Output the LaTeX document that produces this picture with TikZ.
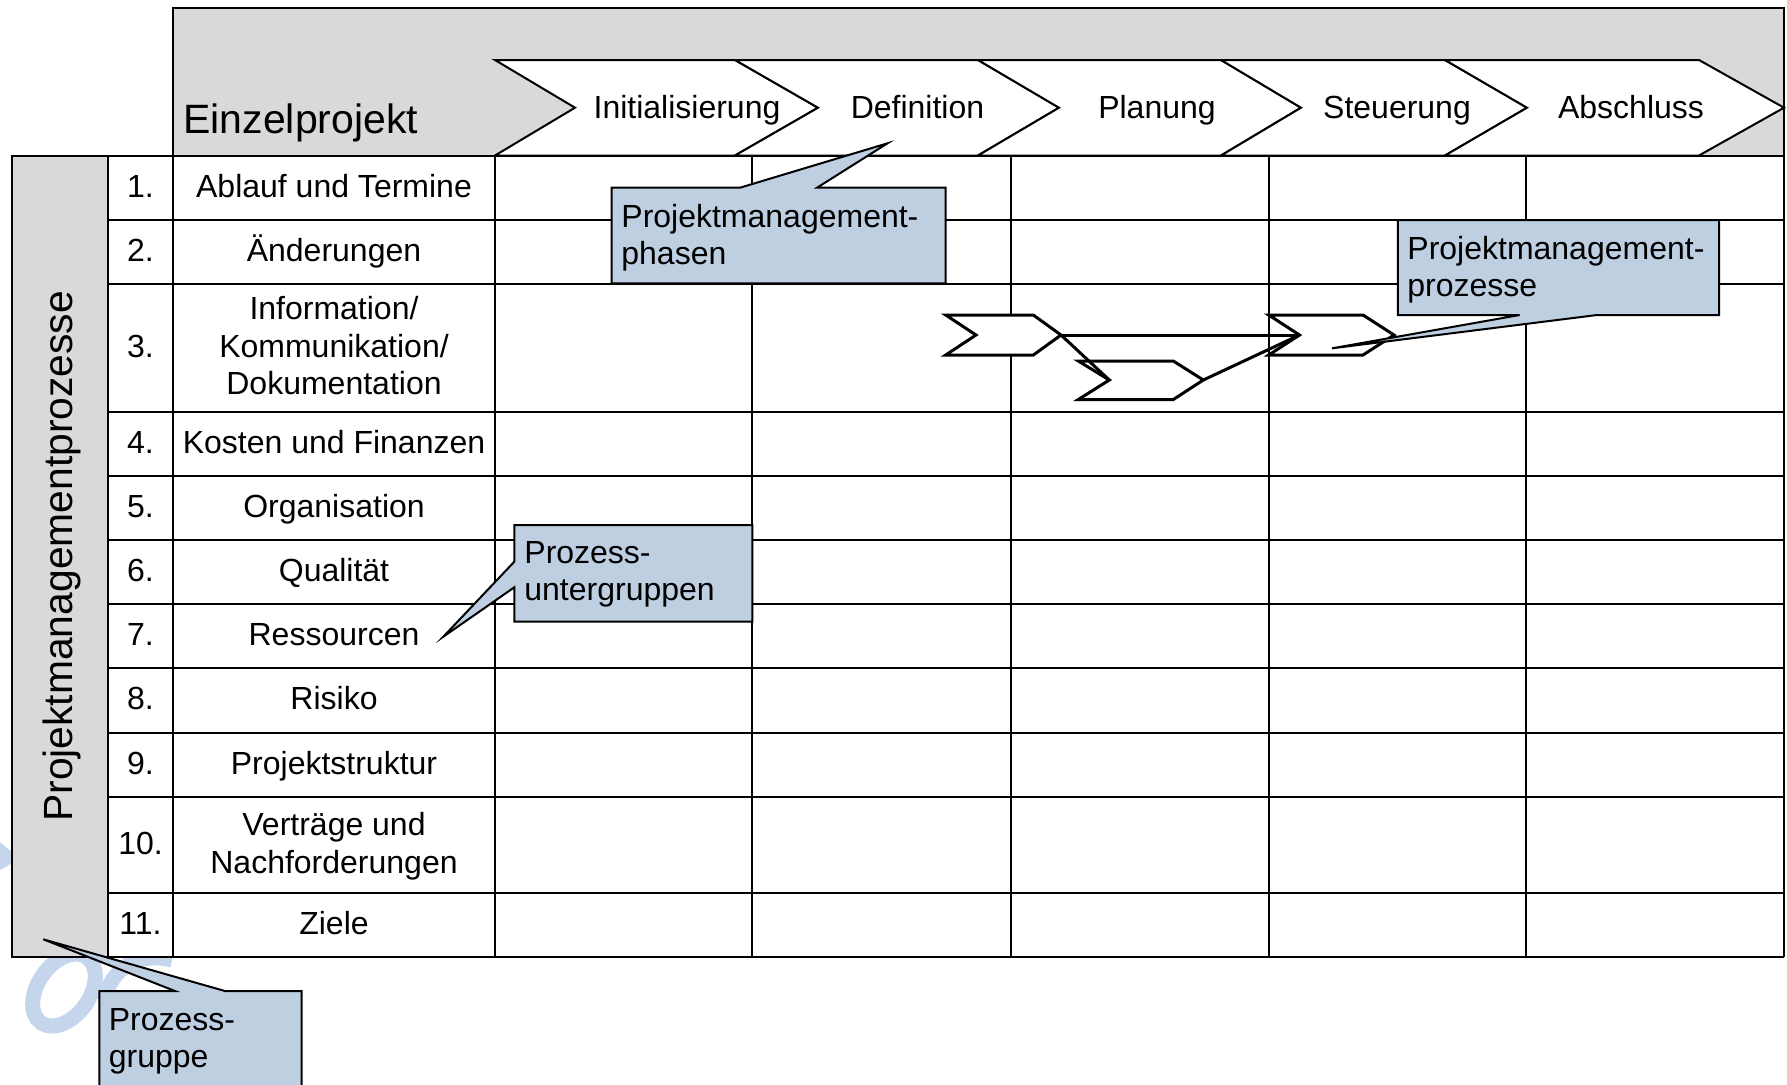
\documentclass[tikz,border=0pt]{standalone}
\usepackage{fontspec}
\setmainfont{Liberation Sans}
\definecolor{headgrey}{RGB}{217,217,217}
\definecolor{noteblue}{RGB}{191,207,226}
\definecolor{markblue}{RGB}{197,213,236}
\begin{document}
\begin{tikzpicture}[x=0.5pt,y=-0.5pt,
  rule/.style={line width=1pt},
  txt/.style={font=\fontsize{16}{18.8}\selectfont, inner sep=0pt, align=center, anchor=base},
  bigtxt/.style={font=\fontsize{20.5}{24}\selectfont, inner sep=0pt},
  phasebox/.style={draw, fill=white, line width=1pt, line join=miter},
  stepshape/.style={draw, fill=white, line width=1.5pt, line join=miter},
  link/.style={line width=1.5pt, line join=miter},
  note/.style={draw, fill=noteblue, line width=1pt, line join=miter},
  notetxt/.style={font=\fontsize{16}{18.8}\selectfont, inner sep=0pt, align=left, anchor=base west},
]
\useasboundingbox (0,0) rectangle (1787,1084);
\clip (0,0) rectangle (1787,1084);

% faint background lettering
\draw[markblue, line width=7.5pt] (64,990) ellipse [x radius=20pt, y radius=13pt, rotate=55];
\draw[markblue, line width=7.5pt] (104,1000) .. controls (112,966) and (140,952) .. (172,960);
\fill[markblue] (0,842) -- (14,854) -- (14,862) -- (0,870) -- cycle;

% header band with the phase arrows
\draw[rule, fill=headgrey] (172.7,8) rectangle (1784,155.5);
\foreach \a/\b/\c/\d in {495/575/735/818, 735/818/978/1059, 978/1059/1221/1301,
                         1221/1301/1445/1527, 1445/1527/1699/1784}
  \draw[phasebox] (\a,60) -- (\c,60) -- (\d,107.7) -- (\c,155.5) -- (\a,155.5) -- (\b,107.7) -- cycle;
\node[bigtxt, anchor=base west] (title) at (183,133) {Einzelprojekt};
\node[txt] (ph1) at (687,118)  {Initialisierung};
\node[txt] (ph2) at (917.5,118) {Definition};
\node[txt] (ph3) at (1157,118) {Planung};
\node[txt] (ph4) at (1397,118) {Steuerung};
\node[txt] (ph5) at (1631,118) {Abschluss};

% process group column
\draw[rule, fill=headgrey] (11.5,155.5) rectangle (108.3,957);
\node[inner sep=0pt, font=\fontsize{20.4}{24}\selectfont, rotate=90, anchor=base] (group) at (72,556.3) {Projektmanagementprozesse};

% table grid
\fill[white] (108.3,155.5) rectangle (1784,957);
\foreach \y in {155.5,219.6,283.7,411.9,476.1,540.2,604.3,668.4,732.5,796.7,892.8,957}
  \draw[rule] (108.3,\y) -- (1784,\y);
\foreach \x in {108.3,172.7,495,752.2,1011,1268.7,1526,1784}
  \draw[rule] (\x,155.5) -- (\x,957);

% row numbers and sub-group names
\foreach \n/\t/\y in {1/Ablauf und Termine/197, 2/Änderungen/261.1,
    4/Kosten und Finanzen/453.4, 5/Organisation/517.6, 6/Qualität/581.7,
    7/Ressourcen/645.8, 8/Risiko/709.9, 9/Projektstruktur/774, 11/Ziele/934.3}
{
  \node[txt] (num\n) at (140.5,\y) {\n.};
  \node[txt] (lab\n) at (334,\y) {\t};
}
\node[txt] (num3) at (140.5,357.2) {3.};
\node[txt] (lab3) at (334,394.8) {Information/\\Kommunikation/\\Dokumentation};
\node[txt] (num10) at (140.5,854.2) {10.};
\node[txt] (lab10) at (334,873) {Verträge und\\Nachforderungen};

% process steps in row 3
\draw[stepshape] (945.7,315) -- (1033.3,315) -- (1061,335) -- (1033.3,355) -- (945.7,355) -- (976,335) -- cycle;
\draw[stepshape] (1078.3,361) -- (1173.3,361) -- (1203.3,380) -- (1173.3,399.5) -- (1078.3,399.5) -- (1109.3,380) -- cycle;
\draw[stepshape] (1268.7,315) -- (1363,315) -- (1394,335) -- (1363,355) -- (1268.7,355) -- (1299.5,335) -- cycle;
\coordinate (s1tip) at (1061,335);
\coordinate (s2in) at (1109.3,380);
\coordinate (s2tip) at (1203.3,380);
\coordinate (s3in) at (1299.5,335);
\draw[link] (s1tip) -- (s3in);
\draw[link] (s1tip) -- (s2in);
\draw[link] (s2tip) -- (s3in);

% callouts
\draw[note] (611.6,187.7) -- (740,187.7) -- (887.5,143.3) -- (817,187.7) -- (945.5,187.7)
  -- (945.5,283.3) -- (611.6,283.3) -- cycle;
\node[notetxt] (note1) at (621,264.6) {Projektmanagement-\\phasen};

\draw[note] (1397.8,220) -- (1719,220) -- (1719,315) -- (1597,315) -- (1332,348.3)
  -- (1519.6,315) -- (1397.8,315) -- cycle;
\node[notetxt] (note2) at (1407,296.6) {Projektmanagement-\\prozesse};

\draw[note] (514.3,525) -- (752.3,525) -- (752.3,621.7) -- (514.3,621.7) -- (514.3,587.3)
  -- (443.3,636.7) -- (514.3,561.7) -- cycle;
\node[notetxt] (note3) at (524,600.6) {Prozess-\\untergruppen};

\draw[note] (99.3,991) -- (175,991) -- (43.3,939.3) -- (225,991) -- (301.7,991)
  -- (301.7,1095) -- (99.3,1095) -- cycle;
\node[notetxt] (note4) at (108.5,1067.6) {Prozess-\\gruppe};
\end{tikzpicture}
\end{document}
